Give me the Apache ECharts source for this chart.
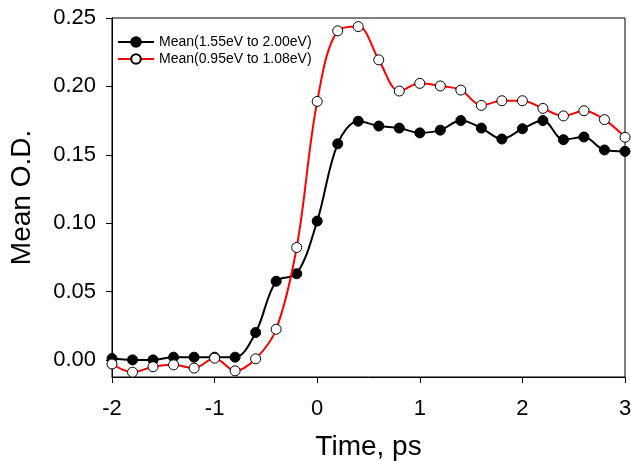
<!DOCTYPE html>
<html>
<head>
<meta charset="utf-8">
<script src="https://cdn.jsdelivr.net/npm/echarts@6/dist/echarts.min.js"></script>
<style>
html,body{margin:0;padding:0;background:#fff;}
#chart{width:631px;height:461px;}
</style>
</head>
<body>
<div id="chart"></div>
<script>
var times = [-2.0,-1.8,-1.6,-1.4,-1.2,-1.0,-0.8,-0.6,-0.4,-0.2,0.0,0.2,0.4,0.6,0.8,1.0,1.2,1.4,1.6,1.8,2.0,2.2,2.4,2.6,2.8,3.0];
var meanHigh = [0.001,0.000,0.000,0.002,0.002,0.002,0.002,0.020,0.0575,0.063,0.1015,0.158,0.1745,0.171,0.1695,0.166,0.168,0.175,0.1695,0.1615,0.169,0.175,0.161,0.163,0.1535,0.1525];
var meanLow = [-0.003,-0.009,-0.005,-0.0036,-0.006,0.0013,-0.008,0.0008,0.0224,0.0822,0.189,0.2406,0.2437,0.2194,0.1966,0.2022,0.2003,0.1973,0.1861,0.1895,0.1895,0.1839,0.1784,0.1822,0.1757,0.1628];
var seriesNames = ['Mean(1.55eV to 2.00eV)','Mean(0.95eV to 1.08eV)'];
var yTicks = [0,0.05,0.10,0.15,0.20,0.25];
var xTicks = [-2,-1,0,1,2,3];

function pairs(xs, ys){ return xs.map(function(x,i){ return [x, ys[i]]; }); }

var font = 'Liberation Sans, Arial, sans-serif';
var chart = echarts.init(document.getElementById('chart'), null, {renderer:'canvas'});
chart.setOption({
  backgroundColor:'#ffffff',
  animation:false,
  grid:{left:112, right:6, top:18, bottom:84, outerBoundsMode:'none', containLabel:false,
        show:true, borderColor:'#000', borderWidth:1, backgroundColor:'transparent'},
  legend:{
    orient:'vertical', left:112, top:30, itemWidth:36, itemHeight:12, itemGap:3,
    textStyle:{fontFamily:font, fontSize:14, color:'#000'},
    data:seriesNames
  },
  xAxis:{
    type:'value', min:xTicks[0], max:xTicks[xTicks.length-1], interval:1,
    name:'Time, ps', nameLocation:'middle', nameGap:56,
    nameTextStyle:{fontFamily:font, fontSize:28, color:'#000'},
    axisLine:{onZero:false, lineStyle:{color:'#000', width:1}},
    axisTick:{inside:false, length:6, lineStyle:{color:'#000'}},
    axisLabel:{fontFamily:font, fontSize:22, color:'#000', margin:21},
    splitLine:{show:false}
  },
  yAxis:{
    type:'value', min:-0.0125, max:0.25,
    name:'Mean O.D.', nameLocation:'middle', nameGap:76,
    nameTextStyle:{fontFamily:font, fontSize:28, color:'#000'},
    axisLine:{show:true, onZero:false, lineStyle:{color:'#000', width:1}},
    axisTick:{show:true, inside:false, length:6, customValues:yTicks, lineStyle:{color:'#000'}},
    axisLabel:{fontFamily:font, fontSize:22, color:'#000', margin:16, customValues:yTicks,
      formatter:function(v){ return v.toFixed(2); }},
    splitLine:{show:false}
  },
  series:[
    {
      name:seriesNames[0], type:'line', smooth:0.35, data:pairs(times, meanHigh),
      symbol:'circle', symbolSize:10,
      lineStyle:{color:'#000', width:2},
      itemStyle:{color:'#000', borderColor:'#000', borderWidth:1},
      z:2
    },
    {
      name:seriesNames[1], type:'line', smooth:0.35, data:pairs(times, meanLow),
      symbol:'circle', symbolSize:10,
      lineStyle:{color:'#ff0000', width:2},
      itemStyle:{color:'#fff', borderColor:'#000', borderWidth:1},
      z:3
    }
  ]
});
</script>
</body>
</html>
